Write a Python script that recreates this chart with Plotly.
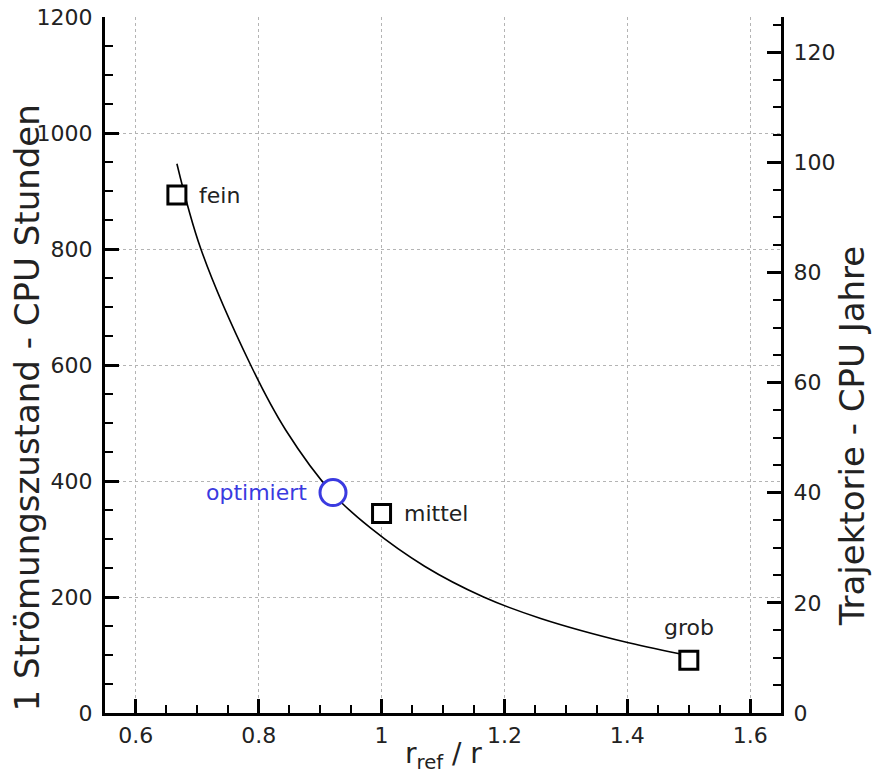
import plotly.graph_objects as go

# Rechenaufwand über dem Gitterverhältnis r_ref / r
curve_x = [0.667, 0.706, 0.787, 0.844, 0.920, 0.982, 1.070, 1.166, 1.259, 1.402, 1.500]
curve_y = [947, 800, 600, 488, 379, 319, 253, 200, 163, 121, 99]

grid_names = ["fein", "mittel", "grob"]
grid_x = [0.667, 1.0, 1.5]
grid_y = [893, 344, 91]

opt_name = "optimiert"
opt_x = [0.921]
opt_y = [380]

x_ticks = [0.6, 0.8, 1.0, 1.2, 1.4, 1.6]
x_ticklabels = ["0.6", "0.8", "1", "1.2", "1.4", "1.6"]
y_ticks = [0, 200, 400, 600, 800, 1000, 1200]
y2_ticks = [0, 20, 40, 60, 80, 100, 120]

X_RANGE = [0.55, 1.65]
Y_RANGE = [0, 1200]
Y2_RANGE = [0, 126.4]

# Zwischenstriche der Achsen
x_minor = [round(0.55 + 0.05 * i, 2) for i in range(23)]
x_minor = [v for v in x_minor if all(abs(v - t) > 1e-6 for t in x_ticks)]
y_minor = [v for v in range(50, 1200, 50) if v % 200]
y2_minor = [v for v in range(5, 130, 5) if v % 20]

FONT = "DejaVu Sans"
TXT = "#222222"
BLUE = "#3a3ae0"

fig = go.Figure()

fig.add_trace(go.Scatter(
    x=curve_x, y=curve_y, mode="lines", line=dict(color="black", width=1.6, shape="spline"),
    showlegend=False, hoverinfo="skip"))

fig.add_trace(go.Scatter(
    x=grid_x, y=grid_y, mode="markers",
    marker=dict(symbol="square", size=18, color="white", line=dict(color="black", width=3)),
    showlegend=False))

fig.add_trace(go.Scatter(
    x=opt_x, y=opt_y, mode="markers",
    marker=dict(symbol="circle", size=26, color="white", line=dict(color=BLUE, width=3)),
    showlegend=False))

# leere Spuren, damit die Zusatzachsen gezeichnet werden
for xa, ya in [("x2", "y3"), ("x", "y2"), ("x", "y4")]:
    fig.add_trace(go.Scatter(x=[None], y=[None], xaxis=xa, yaxis=ya, mode="markers",
                             showlegend=False, hoverinfo="skip"))

annotations = []
# Beschriftung der Gitterpunkte
offsets = {"fein": dict(xanchor="left", yanchor="middle", xshift=20, yshift=0),
           "mittel": dict(xanchor="left", yanchor="middle", xshift=20, yshift=0),
           "grob": dict(xanchor="center", yanchor="middle", xshift=0, yshift=33)}
for name, xv, yv in zip(grid_names, grid_x, grid_y):
    annotations.append(dict(x=xv, y=yv, xref="x", yref="y", text=name, showarrow=False,
                            font=dict(family=FONT, size=22, color=TXT), **offsets[name]))
annotations.append(dict(x=opt_x[0], y=opt_y[0], xref="x", yref="y", text=opt_name, showarrow=False,
                        xanchor="right", yanchor="middle", xshift=-24,
                        font=dict(family=FONT, size=22, color=BLUE)))

# Achsentitel
annotations.append(dict(x=-0.115, y=0.438, xref="paper", yref="paper",
                        text="1 Strömungszustand - CPU Stunden", textangle=-90, showarrow=False,
                        xanchor="center", yanchor="middle", font=dict(family=FONT, size=34, color=TXT)))
annotations.append(dict(x=1.105, y=0.399, xref="paper", yref="paper",
                        text="Trajektorie - CPU Jahre", textangle=-90, showarrow=False,
                        xanchor="center", yanchor="middle", font=dict(family=FONT, size=34, color=TXT)))
annotations.append(dict(x=0.501, y=-0.061, xref="paper", yref="paper",
                        text="r<sub>ref</sub> / r", showarrow=False,
                        xanchor="center", yanchor="middle", font=dict(family=FONT, size=28, color=TXT)))

tickfont = dict(family=FONT, size=22, color=TXT)
major = dict(ticks="inside", ticklen=14, tickwidth=3, tickcolor="black", zeroline=False,
             automargin=False, tickfont=tickfont)
minor = dict(ticks="inside", ticklen=8, tickwidth=1.5, tickcolor="black", zeroline=False,
             automargin=False, showticklabels=False, showgrid=False, showline=False)
grid = dict(showgrid=True, gridcolor="#b4b4b4", gridwidth=1, griddash="dot")

fig.update_layout(
    template="none",
    width=872, height=780,
    margin=dict(l=105, r=91, t=17, b=67),
    paper_bgcolor="white", plot_bgcolor="white",
    font=dict(family=FONT, size=22, color=TXT),
    annotations=annotations,
    xaxis=dict(range=X_RANGE, tickvals=x_ticks, ticktext=x_ticklabels, anchor="y",
               showline=True, linewidth=3, linecolor="black", mirror=False,
               ticklabelstandoff=1, **grid, **major),
    xaxis2=dict(range=X_RANGE, tickvals=x_minor, overlaying="x", anchor="y", side="bottom", **minor),
    yaxis=dict(range=Y_RANGE, tickvals=y_ticks, anchor="x", side="left",
               showline=True, linewidth=3, linecolor="black", mirror=False,
               ticklabelstandoff=5, **grid, **major),
    yaxis2=dict(range=Y2_RANGE, tickvals=y2_ticks, overlaying="y", anchor="x", side="right",
                showline=True, linewidth=3, linecolor="black", showgrid=False,
                ticklabelstandoff=5, **major),
    yaxis3=dict(range=Y_RANGE, tickvals=y_minor, overlaying="y", anchor="x2", side="left", **minor),
    yaxis4=dict(range=Y2_RANGE, tickvals=y2_minor, overlaying="y", anchor="x", side="right", **minor),
)

fig.write_html("out.html")
